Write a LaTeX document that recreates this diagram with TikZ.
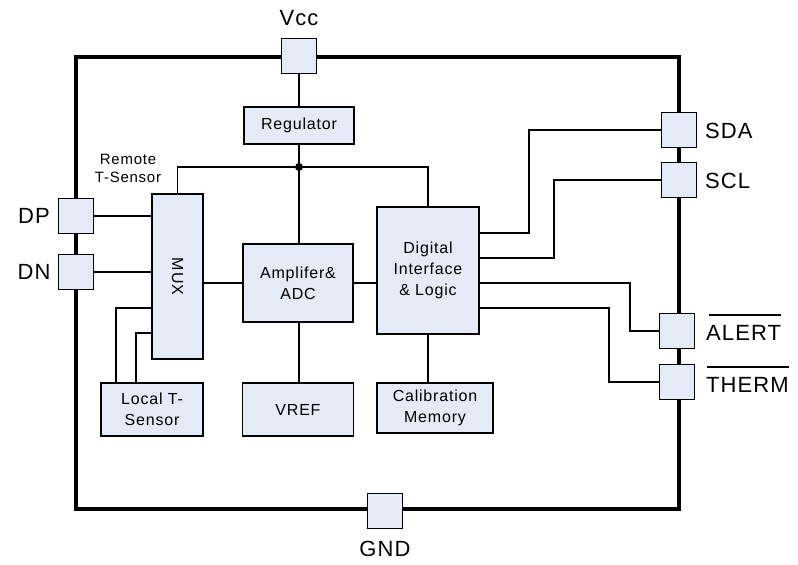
\documentclass[tikz,border=0pt]{standalone}
\usepackage{fontspec}
\setmainfont{Liberation Sans}[LetterSpace=5]
\usetikzlibrary{positioning, calc}
\definecolor{blockfill}{RGB}{229,235,246}

\begin{document}
\begin{tikzpicture}[x=1pt, y=-1pt,
  wire/.style={line width=1.6pt},
  block/.style={draw, line width=1.6pt, fill=blockfill, align=center, inner sep=0pt,
    font=\fontsize{16}{21}\selectfont},
  pin/.style={draw, line width=1.6pt, fill=blockfill, minimum width=35pt, minimum height=35pt, inner sep=0pt},
  pinlabel/.style={font=\fontsize{22}{26}\selectfont, inner sep=0pt}]
  \useasboundingbox (0,0) rectangle (798,565);
  % chip outline
  \draw[line width=4pt] (76,57) rectangle (679,509);
  % blocks
  \node[block, minimum width=110pt, minimum height=37pt] (reg) at (299,125.5) {Regulator};
  \node[block, minimum width=51pt, minimum height=165pt] (mux) at (177.5,276.5) {\rotatebox{-90}{MUX}};
  \node[block, minimum width=110pt, minimum height=78pt] (amp) at (298,283) {Amplifer\&\\ADC};
  \node[block, minimum width=102pt, minimum height=127pt] (dig) at (428,270.5) {Digital\\Interface\\\& Logic};
  \node[block, minimum width=102pt, minimum height=53pt] (local) at (152,409.5) {Local T-\\Sensor};
  \node[block, minimum width=111pt, minimum height=53pt] (vref) at (298,409.5) {VREF};
  \node[block, minimum width=116pt, minimum height=50pt] (cal) at (435,408) {Calibration\\Memory};
  % pins
  \node[pin] (vcc) at (299,56) {};
  \node[pin] (gnd) at (385,511) {};
  \node[pin] (dp) at (76,216) {};
  \node[pin] (dn) at (76,272) {};
  \node[pin] (sda) at (679,130) {};
  \node[pin] (scl) at (679,180) {};
  \node[pin] (alert) at (677,331) {};
  \node[pin] (therm) at (677,382) {};
  % pin labels
  \node[pinlabel] (vcclbl) at (299,18) {Vcc};
  \node[pinlabel] (gndlbl) at (385,549) {GND};
  \node[pinlabel] (dplbl) at (34,216) {DP};
  \node[pinlabel] (dnlbl) at (34,272) {DN};
  \node[pinlabel, anchor=west] (sdalbl) at (705,131) {SDA};
  \node[pinlabel, anchor=west] (scllbl) at (705,181) {SCL};
  \node[pinlabel, anchor=west] (alertlbl) at (706,333) {ALERT};
  \node[pinlabel, anchor=west] (thermlbl) at (706,385) {THERM};
  \draw[line width=1.5pt] ($(alertlbl.north west)+(3,-10)$) -- ($(alertlbl.north east)+(0,-10)$);
  \draw[line width=1.5pt] ($(thermlbl.north west)+(1,-10)$) -- ($(thermlbl.north east)+(0,-10)$);
  \node[align=center, font=\fontsize{15}{18}\selectfont] (remote) at (128,168) {Remote\\T-Sensor};
  % connections
  \coordinate (dot) at (299,167);
  \draw[wire] (vcc.south) -- (reg.north);
  \draw[wire] (reg.south) -- (dot) -- (dot |- amp.north);
  \draw[wire] (mux.north) |- (dot) -| (dig.north);
  \fill (dot) circle (4pt);
  \draw[wire] (dp.east) -- (dp.east -| mux.west);
  \draw[wire] (dn.east) -- (dn.east -| mux.west);
  \draw[wire] (amp.west) -- (amp.west -| mux.east);
  \draw[wire] (amp.east) -- (amp.east -| dig.west);
  \draw[wire] (dot |- amp.south) -- (dot |- vref.north);
  \draw[wire] (dig.south) -- (dig.south |- cal.north);
  \draw[wire] ($(local.north)+(-36,0)$) |- ($(mux.west)+(0,31.5)$);
  \draw[wire] ($(local.north)+(-16,0)$) |- ($(mux.west)+(0,56.5)$);
  \draw[wire] ($(dig.east)+(0,-37.5)$) -- ++(49,0) |- (sda.west);
  \draw[wire] ($(dig.east)+(0,-12.5)$) -- ++(74,0) |- (scl.west);
  \draw[wire] ($(dig.east)+(0,12.5)$) -- ++(150,0) |- (alert.west);
  \draw[wire] ($(dig.east)+(0,37.5)$) -- ++(129,0) |- (therm.west);
\end{tikzpicture}
\end{document}
